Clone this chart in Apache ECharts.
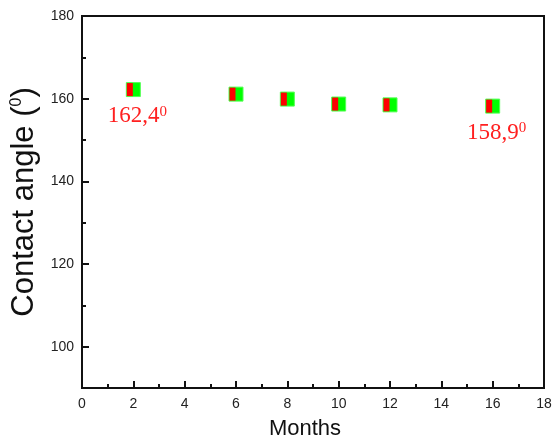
<!DOCTYPE html>
<html>
<head>
<meta charset="utf-8">
<script src="https://cdn.jsdelivr.net/npm/echarts@6/dist/echarts.min.js"></script>
<style>
html,body{margin:0;padding:0;background:#fff;}
#c{width:554px;height:436px;}
</style>
</head>
<body>
<div id="c"></div>
<script>
var months = [2, 6, 8, 10, 12, 16];
var angles = [162.2, 161.1, 159.9, 158.7, 158.5, 158.2];
var annotations = ['162,4', '', '', '', '', '158,9'];
var yMajorTicks = [100, 120, 140, 160, 180];
var yMinorTicks = [110, 130, 150, 170];

var chart = echarts.init(document.getElementById('c'));

var mainData = months.map(function (m, i) {
  var item = { value: [m, angles[i]] };
  if (annotations[i]) {
    item.label = {
      show: true,
      position: 'bottom',
      distance: 7,
      offset: [4, 0],
      formatter: '{a|' + annotations[i] + '}{s|0}',
      rich: {
        a: { fontFamily: 'Liberation Serif', fontSize: 23, color: '#ff2020', lineHeight: 24 },
        s: { fontFamily: 'Liberation Serif', fontSize: 15, color: '#ff2020', verticalAlign: 'top', lineHeight: 14 }
      }
    };
  }
  return item;
});
var redData = months.map(function (m, i) { return [m, angles[i]]; });

var axisLine = { show: true, lineStyle: { color: '#111', width: 2 } };

chart.setOption({
  animation: false,
  backgroundColor: '#fff',
  grid: { left: 82, right: 10, top: 16, bottom: 48, show: true, borderColor: '#111', borderWidth: 2, containLabel: false, outerBoundsMode: 'none' },
  xAxis: {
    type: 'value', min: 0, max: 18, interval: 2,
    name: 'Months', nameLocation: 'middle', nameGap: 30,
    nameTextStyle: { fontFamily: 'Liberation Sans', fontSize: 22, color: '#111', padding: [0, 16, 0, 0] },
    axisLine: axisLine,
    axisTick: { show: true, inside: true, length: 7, lineStyle: { color: '#111', width: 2 } },
    minorTick: { show: true, splitNumber: 2, length: 4, lineStyle: { color: '#111', width: 2 } },
    axisLabel: { fontFamily: 'Liberation Sans', fontSize: 14, color: '#222', margin: 9 },
    splitLine: { show: false }
  },
  yAxis: [{
    type: 'value', min: 90, max: 180, interval: 10,
    name: 'Contact angle ({s|0})', nameLocation: 'middle', nameGap: 38,
    nameTextStyle: {
      fontFamily: 'Liberation Sans', fontSize: 31, color: '#111',
      rich: { s: { fontFamily: 'Liberation Sans', fontSize: 16, color: '#111', verticalAlign: 'top', lineHeight: 14 } }
    },
    axisLine: axisLine,
    axisTick: { show: true, inside: true, length: 7, customValues: yMajorTicks, lineStyle: { color: '#111', width: 2 } },
    axisLabel: { fontFamily: 'Liberation Sans', fontSize: 14, color: '#222', margin: 8, customValues: yMajorTicks },
    splitLine: { show: false }
  }, {
    type: 'value', min: 90, max: 180, interval: 10, position: 'left',
    axisLine: { show: false },
    axisTick: { show: true, inside: true, length: 4, customValues: yMinorTicks, lineStyle: { color: '#111', width: 2 } },
    axisLabel: { show: false },
    splitLine: { show: false }
  }],
  series: [{
    type: 'scatter',
    symbol: 'rect',
    symbolSize: 14,
    itemStyle: { color: '#00ff00', borderColor: '#55ff55', borderWidth: 1, opacity: 1 },
    data: mainData,
    z: 2
  }, {
    type: 'scatter',
    symbol: 'rect',
    symbolSize: [6, 13],
    symbolOffset: [-3.5, 0],
    itemStyle: { color: '#ff0000', opacity: 1 },
    data: redData,
    silent: true,
    z: 3
  }]
});
</script>
</body>
</html>
